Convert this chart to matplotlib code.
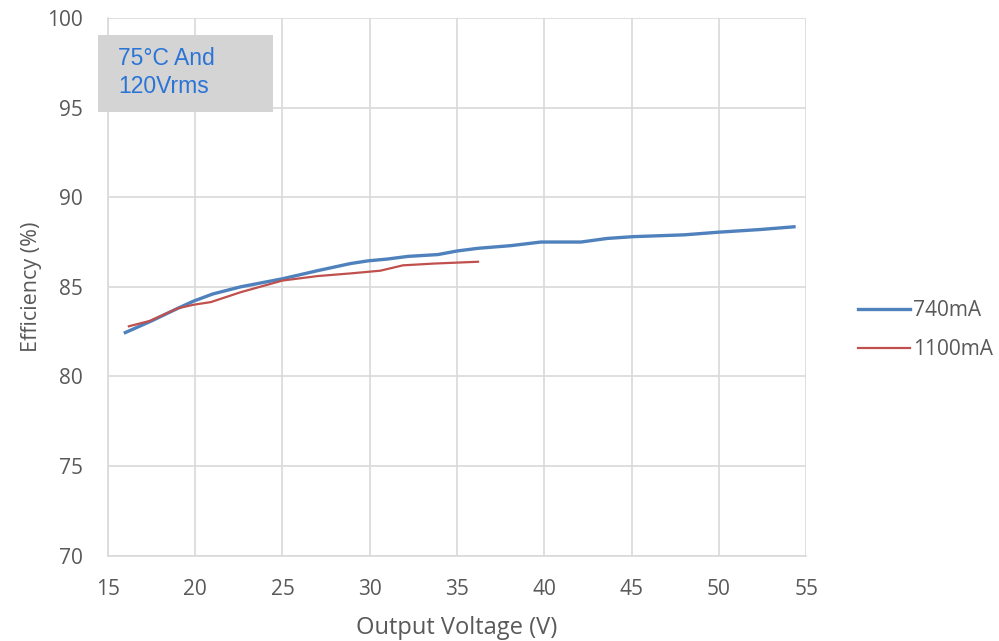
import matplotlib.pyplot as plt
from matplotlib.patches import Rectangle

plt.rcParams['font.family'] = ['Open Sans', 'DejaVu Sans']

# 740mA series
v_740 = [16.0, 17.5, 19.0, 19.9, 21.0, 22.6, 25.0, 27.0, 28.9, 29.9, 31.0, 32.2,
         33.9, 35.0, 36.2, 38.1, 39.8, 42.1, 43.6, 45.1, 48.0, 50.0, 52.4, 54.3]
eff_740 = [82.45, 83.1, 83.8, 84.2, 84.6, 85.0, 85.45, 85.9, 86.3, 86.45, 86.55, 86.7,
           86.8, 87.0, 87.15, 87.3, 87.5, 87.5, 87.7, 87.8, 87.9, 88.05, 88.2, 88.35]

# 1100mA series
v_1100 = [16.2, 16.8, 17.4, 19.0, 19.9, 20.9, 22.6, 25.0, 27.0, 28.9, 30.6, 31.9, 33.7, 36.2]
eff_1100 = [82.8, 82.95, 83.1, 83.8, 84.0, 84.15, 84.7, 85.35, 85.6, 85.75, 85.9, 86.2, 86.3, 86.4]

x_ticks = [15, 20, 25, 30, 35, 40, 45, 50, 55]
y_ticks = [70, 75, 80, 85, 90, 95, 100]

fig = plt.figure(figsize=(9.99, 6.41), dpi=100)
ax = fig.add_axes([0.108, 0.133, 0.699, 0.839])

ax.plot(v_740, eff_740, color='#4f81bd', lw=2.4, label='740mA', zorder=3)
ax.plot(v_1100, eff_1100, color='#c0504d', lw=1.6, label='1100mA', zorder=3)

ax.set_xlim(15, 55)
ax.set_ylim(70, 100)
ax.set_xticks(x_ticks)
ax.set_yticks(y_ticks)
ax.grid(True, color='#d9d9d9', lw=1.2)
ax.set_axisbelow(True)
for side in ['top', 'right']:
    ax.spines[side].set_visible(False)
for side in ['left', 'bottom']:
    ax.spines[side].set_color('#d9d9d9')
    ax.spines[side].set_linewidth(1.2)
ax.tick_params(length=0, labelsize=15, labelcolor='#595959')
ax.tick_params(axis='x', pad=17)
ax.tick_params(axis='y', pad=18)

ax.set_xlabel('Output Voltage (V)', fontsize=17, color='#595959', labelpad=11)
ax.set_ylabel('Efficiency (%)', fontsize=15.5, color='#595959', labelpad=4)

# annotation box
fig.patches.append(Rectangle((98 / 999, 1 - 112 / 641), 175 / 999, 77 / 641,
                             transform=fig.transFigure, facecolor='#d4d4d4',
                             edgecolor='none', zorder=5))
box_font = ['Liberation Sans', 'DejaVu Sans']
fig.text(118 / 999, 1 - 65 / 641, '75°C And', fontsize=16.5, color='#2a74d8',
         family=box_font, va='baseline', ha='left', zorder=6)
fig.text(118 / 999, 1 - 93 / 641, '120Vrms', fontsize=16.5, color='#2a74d8',
         family=box_font, va='baseline', ha='left', zorder=6)

fig.legend(loc='center left', bbox_to_anchor=(858 / 999, 1 - 330 / 641), frameon=False,
           fontsize=15, labelcolor='#595959', handlelength=2.5, borderpad=0,
           borderaxespad=0, handletextpad=0.15, labelspacing=0.85)

fig.savefig('out.png', dpi=100)
